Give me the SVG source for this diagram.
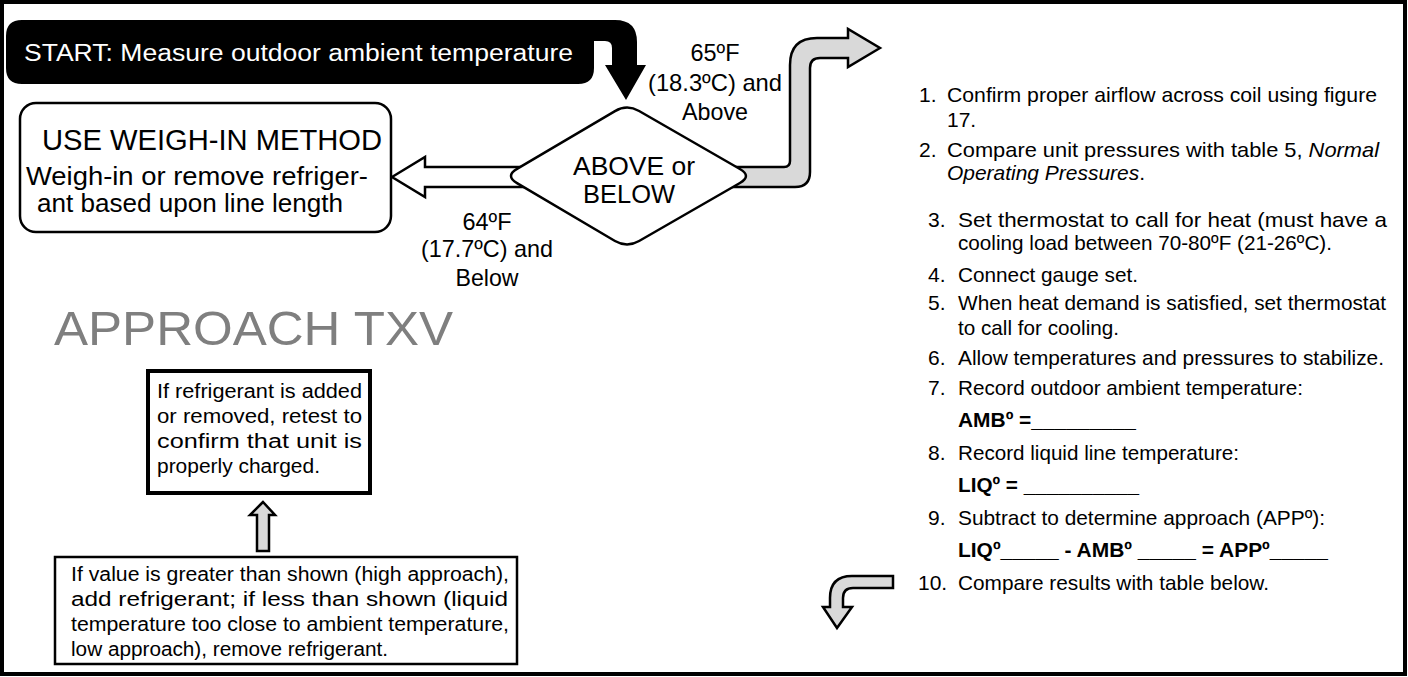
<svg xmlns="http://www.w3.org/2000/svg" width="1408" height="677" viewBox="0 0 1408 677">
<style>
text{font-family:"Liberation Sans",Arial,Helvetica,sans-serif;fill:#000}
.l{font-size:21px}
.s{font-size:20px}
.b{font-weight:bold}
.c{text-anchor:middle}
.lab{font-size:24px;text-anchor:middle}
.hollow{fill:#fff;stroke:#000;stroke-width:2.5;stroke-linejoin:miter}
.gray{fill:#d9d9d9;stroke:#000;stroke-width:2.5;stroke-linejoin:miter}
.box{fill:#fff;stroke:#000;stroke-width:2.5}
</style>
<rect x="0" y="0" width="1408" height="677" fill="#fff"/>
<rect id="frame" x="2" y="2" width="1403" height="672" fill="#fff" stroke="#000" stroke-width="4"/>

<g id="connectors">
  <path class="hollow" d="M392,177 L425,157 V167 H535 V187 H425 V197 Z"/>
  <path class="gray" d="M880,48 L848,67 V58 H820 Q810,58 810,68 V172 Q810,187 795,187 H725 V167 H784 Q790,167 790,161 V65 Q790,38 817,38 H848 V29 Z"/>
  <path class="gray" d="M893,576 H852 Q830,576 830,598 V607 H823 L837,628 L852,607 H843 V598 Q843,588 853,588 H893 Z"/>
  <path class="gray" stroke-width="2" d="M263,502 L250,515 H257 V551 H269 V515 H275 Z"/>
</g>

<g id="start">
  <path fill="#000" d="M22,20 H615 Q637,20 637,42 V65 H646 L626,100 L605,65 H612 V48 Q612,41 605,41 H594 V68 Q594,84 578,84 H22 Q6,84 6,68 V36 Q6,20 22,20 Z"/>
  <text x="24" y="61" font-size="23.5" textLength="549" lengthAdjust="spacingAndGlyphs" style="fill:#fff">START: Measure outdoor ambient temperature</text>
</g>

<g id="decision">
  <path fill="#fff" stroke="#000" stroke-width="2.5" d="M639.1,111 L739.9,169 Q752,176 739.9,183 L639.1,241 Q627,248 615,241 L517,183.1 Q505,176 517,168.9 L615,111.1 Q627,104 639.1,111 Z"/>
  <text x="634" y="175" font-size="26" class="c" textLength="122" lengthAdjust="spacingAndGlyphs">ABOVE or</text>
  <text x="629" y="203" font-size="26" class="c" textLength="92" lengthAdjust="spacingAndGlyphs">BELOW</text>
</g>

<g id="label-above">
  <text x="715" y="61" class="lab" textLength="49" lengthAdjust="spacingAndGlyphs">65ºF</text>
  <text x="715" y="91" class="lab" textLength="134" lengthAdjust="spacingAndGlyphs">(18.3ºC) and</text>
  <text x="715" y="120" class="lab" textLength="66" lengthAdjust="spacingAndGlyphs">Above</text>
</g>

<g id="label-below">
  <text x="487" y="230" class="lab" textLength="49" lengthAdjust="spacingAndGlyphs">64ºF</text>
  <text x="487" y="257" class="lab" textLength="132" lengthAdjust="spacingAndGlyphs">(17.7ºC) and</text>
  <text x="487" y="286" class="lab" textLength="63" lengthAdjust="spacingAndGlyphs">Below</text>
</g>

<g id="weigh-in">
  <rect class="box" x="20" y="103" width="371" height="129" rx="16"/>
  <text x="42" y="150" font-size="29.5" textLength="340" lengthAdjust="spacingAndGlyphs">USE WEIGH-IN METHOD</text>
  <text x="26" y="185" font-size="25" textLength="342" lengthAdjust="spacingAndGlyphs">Weigh-in or remove refriger-</text>
  <text x="37" y="212" font-size="25" textLength="306" lengthAdjust="spacingAndGlyphs">ant based upon line length</text>
</g>

<g id="title">
  <text x="54" y="345" font-size="49" textLength="399" lengthAdjust="spacingAndGlyphs" style="fill:#7f7f7f">APPROACH TXV</text>
</g>

<g id="retest">
  <rect x="148" y="371" width="222" height="122" fill="#fff" stroke="#000" stroke-width="4"/>
  <text class="s" x="157" y="398" textLength="205" lengthAdjust="spacingAndGlyphs">If refrigerant is added</text>
  <text class="s" x="157" y="423" textLength="205" lengthAdjust="spacingAndGlyphs">or removed, retest to</text>
  <text class="s" x="157" y="448" textLength="205" lengthAdjust="spacingAndGlyphs">confirm that unit is</text>
  <text class="s" x="157" y="473" textLength="163" lengthAdjust="spacingAndGlyphs">properly charged.</text>
</g>

<g id="adjust">
  <rect class="box" x="55" y="557" width="462" height="107"/>
  <text class="s" x="71" y="581" textLength="438" lengthAdjust="spacingAndGlyphs">If value is greater than shown (high approach),</text>
  <text class="s" x="71" y="606" textLength="437" lengthAdjust="spacingAndGlyphs">add refrigerant; if less than shown (liquid</text>
  <text class="s" x="71" y="631" textLength="438" lengthAdjust="spacingAndGlyphs">temperature too close to ambient temperature,</text>
  <text class="s" x="71" y="656" textLength="317" lengthAdjust="spacingAndGlyphs">low approach), remove refrigerant.</text>
</g>

<g id="steps">
  <text class="l" x="919" y="102">1.</text>
  <text class="l" x="947" y="102" textLength="430" lengthAdjust="spacingAndGlyphs">Confirm proper airflow across coil using figure</text>
  <text class="l" x="947" y="127">17.</text>
  <text class="l" x="919" y="157">2.</text>
  <text class="l" x="947" y="157" textLength="432" lengthAdjust="spacingAndGlyphs">Compare unit pressures with table 5, <tspan font-style="italic">Normal</tspan></text>
  <text class="l" x="947" y="180" textLength="198" lengthAdjust="spacingAndGlyphs"><tspan font-style="italic">Operating Pressures</tspan>.</text>
  <text class="l" x="928" y="227">3.</text>
  <text class="l" x="958" y="227" textLength="429" lengthAdjust="spacingAndGlyphs">Set thermostat to call for heat (must have a</text>
  <text class="l" x="958" y="250" textLength="374" lengthAdjust="spacingAndGlyphs">cooling load between 70-80ºF (21-26ºC).</text>
  <text class="l" x="928" y="282">4.</text>
  <text class="l" x="958" y="282" textLength="180" lengthAdjust="spacingAndGlyphs">Connect gauge set.</text>
  <text class="l" x="928" y="310">5.</text>
  <text class="l" x="958" y="310" textLength="428" lengthAdjust="spacingAndGlyphs">When heat demand is satisfied, set thermostat</text>
  <text class="l" x="958" y="335" textLength="161" lengthAdjust="spacingAndGlyphs">to call for cooling.</text>
  <text class="l" x="928" y="365">6.</text>
  <text class="l" x="958" y="365" textLength="426" lengthAdjust="spacingAndGlyphs">Allow temperatures and pressures to stabilize.</text>
  <text class="l" x="928" y="395">7.</text>
  <text class="l" x="958" y="395" textLength="345" lengthAdjust="spacingAndGlyphs">Record outdoor ambient temperature:</text>
  <text class="l b" x="958" y="427" textLength="178" lengthAdjust="spacingAndGlyphs">AMBº =_________</text>
  <text class="l" x="928" y="460">8.</text>
  <text class="l" x="958" y="460" textLength="281" lengthAdjust="spacingAndGlyphs">Record liquid line temperature:</text>
  <text class="l b" x="958" y="492" textLength="181" lengthAdjust="spacingAndGlyphs">LIQº = __________</text>
  <text class="l" x="928" y="525">9.</text>
  <text class="l" x="958" y="525" textLength="367" lengthAdjust="spacingAndGlyphs">Subtract to determine approach (APPº):</text>
  <text class="l b" x="958" y="557" textLength="370" lengthAdjust="spacingAndGlyphs">LIQº_____ - AMBº _____ = APPº_____</text>
  <text class="l" x="918" y="590">10.</text>
  <text class="l" x="958" y="590" textLength="311" lengthAdjust="spacingAndGlyphs">Compare results with table below.</text>
</g>
</svg>
